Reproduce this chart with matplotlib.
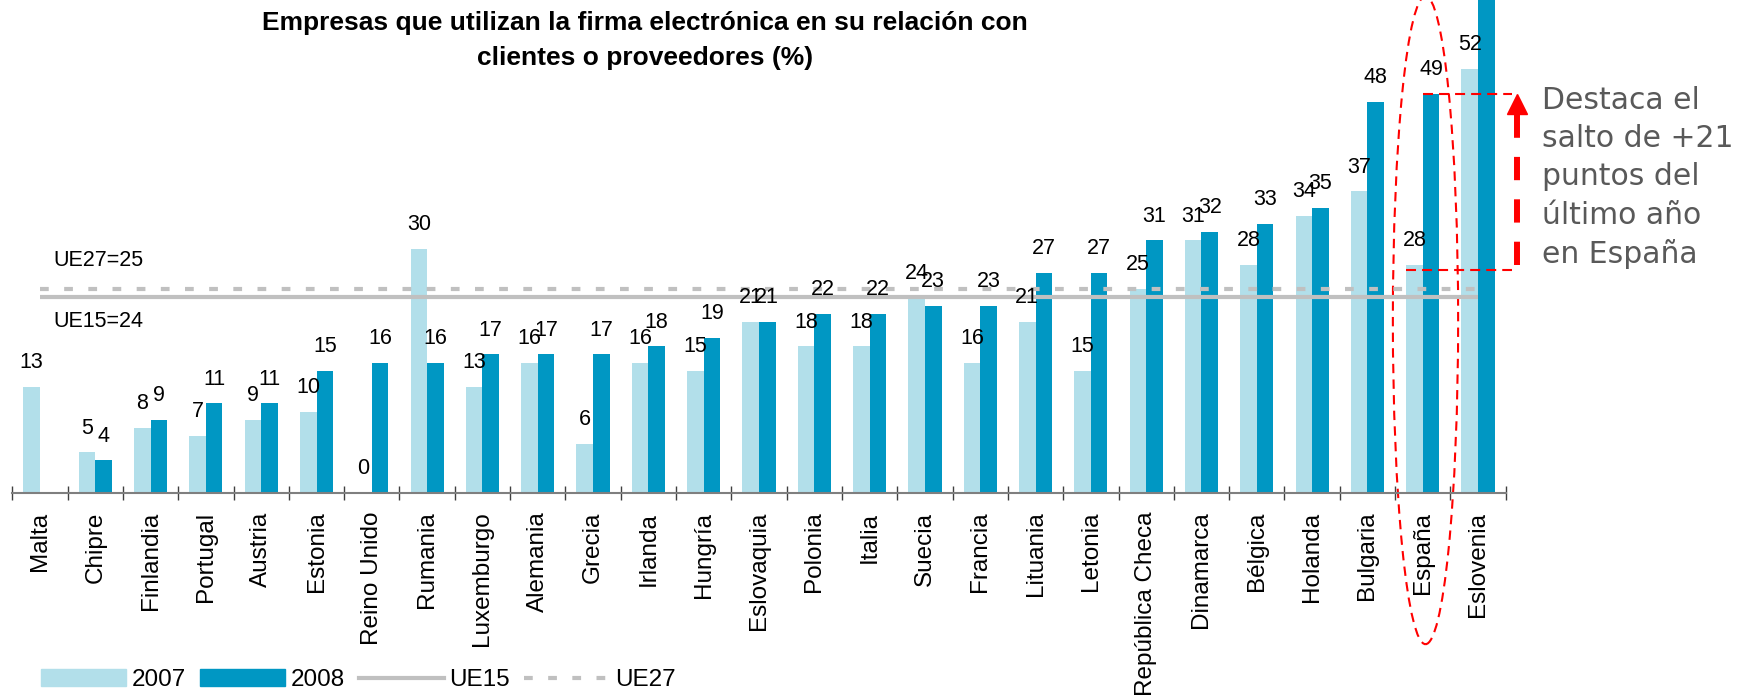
import numpy as np
import matplotlib.pyplot as plt
from matplotlib.patches import Ellipse, Patch
from matplotlib.lines import Line2D

# ------------------------------------------------------------
# Empresas que utilizan la firma electrónica (2007 vs 2008)
# ------------------------------------------------------------

countries = ['Malta', 'Chipre', 'Finlandia', 'Portugal', 'Austria', 'Estonia',
             'Reino Unido', 'Rumania', 'Luxemburgo', 'Alemania', 'Grecia',
             'Irlanda', 'Hungría', 'Eslovaquia', 'Polonia', 'Italia', 'Suecia',
             'Francia', 'Lituania', 'Letonia', 'República Checa', 'Dinamarca',
             'Bélgica', 'Holanda', 'Bulgaria', 'España', 'Eslovenia']
v2007 = [13, 5, 8, 7, 9, 10, 0, 30, 13, 16, 6, 16, 15, 21, 18, 18, 24,
         16, 21, 15, 25, 31, 28, 34, 37, 28, 52]
v2008 = [np.nan, 4, 9, 11, 11, 15, 16, 16, 17, 17, 17, 18, 19, 21, 22, 22, 23,
         23, 27, 27, 31, 32, 33, 35, 48, 49, 64]
ue15 = 24
ue27 = 25
years = ['2007', '2008']

title = ('Empresas que utilizan la firma electrónica en su relación con\n'
         'clientes o proveedores (%)')
note = 'Destaca el\nsalto de +21\npuntos del\núltimo año\nen España'

plt.rcParams['font.family'] = ['Liberation Sans', 'DejaVu Sans']

c07 = '#b2dfea'
c08 = '#0097c3'
grey = '#c0c0c0'

fig = plt.figure(figsize=(17.45, 6.96), dpi=100)
ax = fig.add_axes([12.3 / 1745, 203 / 696, 1493.4 / 1745, 493 / 696])

x = np.arange(len(countries))
w = 0.3
bars07 = ax.bar(x - w / 2, v2007, w, color=c07)
bars08 = ax.bar(x + w / 2, v2008, w, color=c08)

# value labels (the one off the top is clipped away)
for xs, vals in ((x - w / 2, v2007), (x + w / 2, v2008)):
    for xi, v in zip(xs, vals):
        if np.isnan(v):
            continue
        ax.annotate(f'{v:g}', (xi, v), xytext=(0, 13.5), textcoords='offset points',
                    ha='center', va='baseline', fontsize=15.5)

# EU averages
ax.hlines(ue15, x[0], x[-1], color=grey, lw=3)
ax.hlines(ue27, x[0], x[-1], color=grey, lw=3, linestyles=(0, (2.1, 3.7)))
ax.text(0.25, ue27 + 3.5, f'UE27={ue27}', fontsize=15.5, va='center')
ax.text(0.25, ue15 - 3.0, f'UE15={ue15}', fontsize=15.5, va='center')

ax.set_xlim(-0.5, len(countries) - 0.5)
ax.set_ylim(0, 493 / 8.15)

for s in ('top', 'left', 'right'):
    ax.spines[s].set_visible(False)
ax.spines['bottom'].set_color('#7f7f7f')
ax.spines['bottom'].set_linewidth(1.5)
ax.set_yticks([])
ax.set_xticks(x, countries, rotation=90, fontsize=17.5)
ax.set_xticks(np.arange(-0.5, len(countries), 1), minor=True)
ax.tick_params(axis='x', which='major', length=0, pad=13.5)
ax.tick_params(axis='x', which='minor', direction='inout', length=10,
               width=1, color='#404040')

# highlight for Spain
i_es = countries.index('España')
es07, es08 = v2007[i_es], v2008[i_es]
ax.add_patch(Ellipse((i_es + 0.05, 21.2), 1.18, 79.5, fill=False, ec='red',
                     lw=1.5, ls=(0, (4.5, 3)), clip_on=False))
x_arrow = len(countries) - 0.3
red_dash = (0, (4.8, 2.9))
ax.plot([i_es, x_arrow - 0.08], [es08, es08], color='red', lw=1.5,
        ls=red_dash, clip_on=False)
ax.plot([i_es - w, x_arrow - 0.08], [es07 - 0.6, es07 - 0.6], color='red',
        lw=1.5, ls=red_dash, clip_on=False)
ax.plot([x_arrow, x_arrow], [es07, es08 - 2.4], color='red', lw=4.3,
        ls=(0, (3.9, 3.2)), clip_on=False)
ax.plot([x_arrow], [es08 - 1.3], marker='^', color='red', markersize=14,
        clip_on=False)

fig.text(645 / 1745, 1 - 11 / 696, title, ha='center', va='top', fontsize=19,
         fontweight='bold', linespacing=1.58)
fig.text(1541.7 / 1745, 1 - 86 / 696, note, ha='left', va='top', fontsize=21.5,
         family='DejaVu Sans', color='#595959', linespacing=1.4)

handles = [Patch(color=c07), Patch(color=c08),
           Line2D([], [], color=grey, lw=3),
           Line2D([], [], color=grey, lw=3, ls=(0, (2.1, 3.7)))]
fig.legend(handles, years + ['UE15', 'UE27'], loc='center left',
           bbox_to_anchor=(41 / 1745, 1 - 680 / 696), ncol=4, frameon=False,
           fontsize=17.5, handlelength=3.5, handleheight=0.65, handletextpad=0.23,
           columnspacing=0.58, borderpad=0, borderaxespad=0)

fig.savefig('out.png', dpi=100)
